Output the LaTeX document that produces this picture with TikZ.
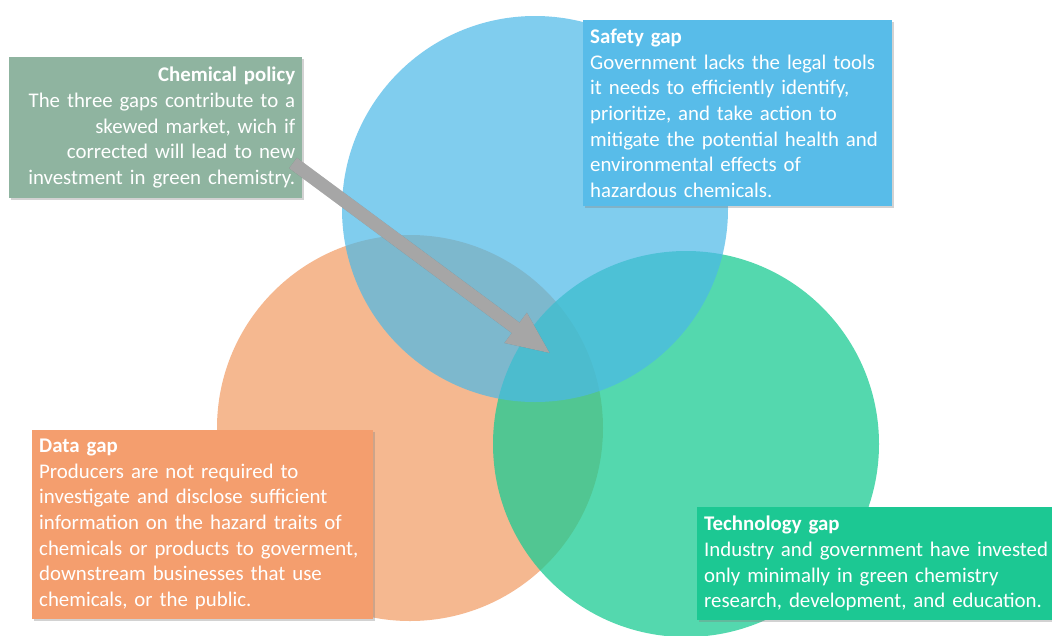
\documentclass[tikz,border=0pt]{standalone}
\usepackage{fontspec}
\setmainfont{Carlito}
\usepackage{tikz}
\usetikzlibrary{arrows.meta,shadows,calc}
\definecolor{safeC}{HTML}{4BB8E8}
\definecolor{dataC}{HTML}{F29A62}
\definecolor{techC}{HTML}{1BCC94}
\definecolor{safeBox}{HTML}{58BCE9}
\definecolor{dataBox}{HTML}{F49E6E}
\definecolor{techBox}{HTML}{1CC893}
\definecolor{policyBox}{HTML}{8FB4A0}
\definecolor{arrowC}{HTML}{A6A6A6}
\tikzstyle{gapcircle}=[circle,minimum size=386pt,inner sep=0pt]
\tikzstyle{gapbox}=[rectangle,anchor=north west,inner xsep=7pt,inner ysep=9pt,text=white,
  font=\fontsize{20.85}{25.6}\selectfont,
  drop shadow={opacity=0.35,shadow xshift=2pt,shadow yshift=-2pt}]
\tikzstyle{bigarrow}=[draw=arrowC,line width=13pt,-{Triangle[length=44pt,width=34pt]}]

\begin{document}
\begin{tikzpicture}[x=1pt,y=-1pt]
      \useasboundingbox (0,0) rectangle (1052,635);
      \clip (0,0) rectangle (1052,635);
      \fill[white] (0,0) rectangle (1052,635);

      % the three gaps
      \foreach \x/\y/\c/\o/\id in {410/428/dataC/0.7/datacirc,686/444/techC/0.75/techcirc,535/209/safeC/0.7/safecirc}{
        \node[gapcircle,fill=\c,fill opacity=\o] (\id) at (\x,\y) {};
      }

      \node[gapbox,fill=policyBox,text width=279pt,align=right,inner ysep=10pt] (policy) at (9,57)
        {\textbf{Chemical policy}\\The three gaps contribute to a\\skewed market, wich if\\corrected will lead to new\\investment in green chemistry.};
      \node[gapbox,fill=safeBox,text width=295pt,align=left] (safety) at (583,20)
        {\textbf{Safety gap}\\Government lacks the legal tools\\it needs to efficiently identify,\\prioritize, and take action to\\mitigate the potential health and\\environmental effects of\\hazardous chemicals.};
      \node[gapbox,fill=dataBox,text width=327pt,align=left] (data) at (32,430)
        {\textbf{Data gap}\\Producers are not required to\\investigate and disclose sufficient\\information on the hazard traits of\\chemicals or products to goverment,\\downstream businesses that use\\chemicals, or the public.};
      \node[gapbox,fill=techBox,text width=360pt,align=left] (tech) at (697,507)
        {\textbf{Technology gap}\\Industry and government have invested\\only minimally in green chemistry\\research, development, and education.};

      % arrow into the middle
      \coordinate (tail) at (293,163);
      \coordinate (core) at (551,354);
      \draw[bigarrow,draw=black,opacity=0.2,shift={(2,2)}] (tail) -- (core);
      \draw[bigarrow] (tail) -- (core);

    \end{tikzpicture}
\end{document}
